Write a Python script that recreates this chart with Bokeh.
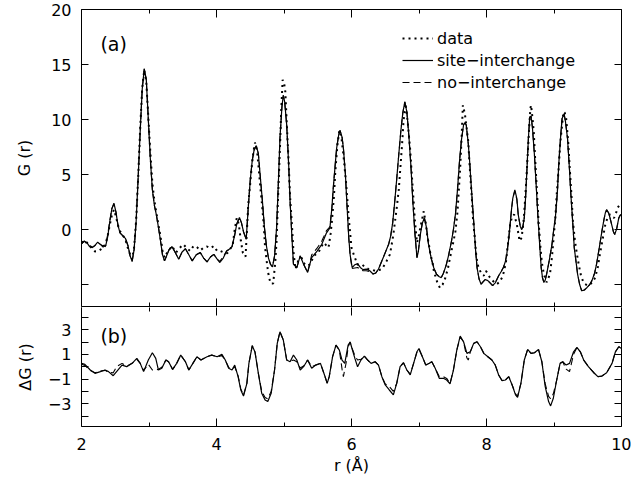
from bokeh.plotting import figure
from bokeh.models import Range1d, FixedTicker, LinearAxis, Legend, LegendItem, Label, ColumnDataSource
from bokeh.layouts import column
from bokeh.embed import file_html
from bokeh.resources import INLINE

# ---------------- data ----------------
# panel (a): G(r), pairs (r, G)
DATA = [(2.00,-1.20),(2.05,-1.00),(2.10,-1.30),(2.15,-1.70),(2.20,-2.00),(2.25,-1.95),(2.30,-1.75),(2.35,-1.50),
 (2.39,-0.50),(2.42,0.45),(2.45,1.30),(2.48,1.80),(2.51,1.20),(2.54,0.40),(2.57,-0.15),(2.61,-0.50),(2.65,-0.90),
 (2.70,-1.96),(2.75,-2.70),(2.78,-1.60),(2.81,0.90),(2.84,4.80),(2.87,9.30),(2.90,12.90),(2.93,14.50),(2.96,13.40),
 (2.99,10.20),(3.02,7.00),(3.05,4.20),(3.08,2.60),(3.11,1.50),(3.14,0.40),(3.17,-0.60),(3.20,-1.90),(3.23,-2.56),
 (3.26,-2.20),(3.29,-1.96),(3.34,-1.50),(3.40,-2.10),(3.45,-1.70),(3.51,-1.35),(3.56,-1.70),(3.61,-1.96),(3.66,-1.50),
 (3.71,-1.60),(3.76,-1.90),(3.81,-1.65),(3.86,-1.55),(3.91,-1.70),(3.96,-1.50),(4.01,-1.96),(4.06,-1.96),(4.11,-2.10),
 (4.16,-2.15),(4.20,-1.80),(4.24,-1.40),(4.27,0.00),(4.30,1.05),(4.33,0.50),(4.36,-1.00),(4.39,-2.10),(4.43,-2.47),
 (4.45,-0.20),(4.47,2.26),(4.50,4.20),(4.52,5.60),(4.55,7.20),(4.57,7.90),(4.60,7.20),(4.62,5.90),(4.65,3.80),
 (4.67,2.56),(4.70,0.40),(4.72,-1.65),(4.75,-3.20),(4.77,-4.07),(4.80,-4.90),(4.84,-4.90),(4.87,-3.00),(4.89,-1.05),
 (4.91,2.60),(4.94,7.40),(4.96,11.00),(4.98,13.60),(5.00,13.40),(5.02,12.50),(5.04,9.80),(5.07,5.90),(5.09,3.00),
 (5.12,0.15),(5.14,-2.00),(5.17,-3.60),(5.21,-2.86),(5.26,-2.56),(5.30,-3.10),(5.34,-3.30),(5.39,-3.16),(5.44,-2.40),
 (5.51,-2.10),(5.55,-1.60),(5.59,-1.20),(5.62,-1.40),(5.66,-1.65),(5.69,-0.40),(5.71,0.75),(5.74,3.00),(5.76,5.27),
 (5.79,7.60),(5.82,9.00),(5.85,8.40),(5.88,6.80),(5.92,4.20),(5.96,1.00),(6.00,-1.65),(6.04,-2.40),(6.09,-3.20),
 (6.15,-3.16),(6.20,-3.40),(6.25,-3.60),(6.30,-3.65),(6.35,-3.76),(6.40,-3.70),(6.45,-3.60),(6.49,-3.20),(6.52,-2.86),
 (6.57,-2.26),(6.60,-1.20),(6.62,-0.45),(6.67,1.96),(6.70,3.60),(6.72,5.27),(6.75,7.80),(6.77,9.80),(6.80,11.45),
 (6.82,10.50),(6.84,9.30),(6.87,7.20),(6.89,5.27),(6.92,2.60),(6.94,0.75),(6.97,-1.20),(6.99,-0.80),(7.02,0.20),
 (7.04,0.75),(7.07,1.66),(7.10,0.60),(7.12,-0.45),(7.15,-1.50),(7.17,-2.26),(7.20,-3.00),(7.22,-3.76),(7.25,-4.40),
 (7.27,-4.80),(7.31,-5.30),(7.35,-5.00),(7.39,-4.40),(7.43,-3.50),(7.46,-2.56),(7.50,-1.40),(7.54,-0.15),(7.57,1.60),
 (7.59,3.60),(7.61,5.57),(7.63,8.20),(7.65,11.30),(7.68,10.50),(7.70,9.50),(7.73,8.00),(7.75,5.80),(7.78,3.16),
 (7.80,1.00),(7.83,-1.05),(7.85,-2.50),(7.88,-3.46),(7.93,-4.07),(7.96,-4.20),(7.99,-3.76),(8.02,-4.00),(8.05,-4.37),
 (8.10,-4.70),(8.15,-4.97),(8.19,-4.80),(8.23,-4.37),(8.26,-3.80),(8.29,-2.86),(8.32,-1.20),(8.35,0.45),(8.38,1.20),
 (8.41,1.36),(8.45,0.45),(8.49,-1.05),(8.52,-0.75),(8.55,0.80),(8.57,2.56),(8.59,4.50),(8.61,6.80),(8.63,9.00),
 (8.65,11.00),(8.66,11.30),(8.68,10.20),(8.70,8.90),(8.72,6.50),(8.75,3.16),(8.77,0.80),(8.80,-1.65),(8.82,-3.00),
 (8.85,-4.07),(8.89,-4.80),(8.94,-4.07),(8.97,-2.50),(8.99,-1.05),(9.02,1.00),(9.04,3.16),(9.07,5.60),(9.09,7.70),
 (9.12,9.50),(9.14,10.70),(9.16,10.60),(9.18,10.10),(9.21,8.00),(9.23,5.90),(9.26,3.00),(9.28,0.75),(9.31,-1.00),
 (9.34,-2.26),(9.37,-3.30),(9.40,-4.20),(9.43,-4.70),(9.46,-4.97),(9.50,-5.10),(9.54,-4.97),(9.58,-4.70),(9.61,-4.37),
 (9.65,-3.40),(9.68,-2.26),(9.72,-0.90),(9.76,0.45),(9.80,1.20),(9.83,1.36),(9.86,1.20),(9.89,1.05),(9.92,1.50),
 (9.94,1.96),(9.97,2.20),(10.00,2.30)]

SITE_INTERCHANGE = [(2.00,-1.30),(2.04,-1.05),(2.08,-1.20),(2.12,-1.55),(2.16,-1.65),(2.20,-1.45),(2.24,-1.15),
 (2.28,-1.35),(2.32,-1.60),(2.36,-1.45),(2.39,-0.60),(2.42,0.75),(2.45,1.90),(2.48,2.40),(2.51,1.60),(2.54,0.40),
 (2.57,-0.30),(2.61,-0.55),(2.65,-0.80),(2.69,-1.50),(2.72,-2.40),(2.75,-2.90),(2.78,-1.80),(2.81,0.80),(2.84,4.80),
 (2.87,9.00),(2.90,12.80),(2.93,14.60),(2.96,13.60),(2.99,10.00),(3.02,6.40),(3.05,3.60),(3.08,2.20),(3.11,1.30),
 (3.14,0.20),(3.17,-1.00),(3.20,-2.30),(3.23,-2.85),(3.26,-2.40),(3.30,-1.80),(3.34,-1.55),(3.39,-2.10),(3.44,-2.70),
 (3.49,-2.05),(3.54,-1.75),(3.59,-2.30),(3.64,-2.85),(3.70,-2.30),(3.76,-2.10),(3.81,-2.60),(3.86,-2.95),(3.91,-2.50),
 (3.96,-2.26),(4.01,-2.70),(4.05,-3.00),(4.10,-2.60),(4.15,-1.96),(4.20,-1.75),(4.23,-1.55),(4.27,-0.50),(4.30,0.50),
 (4.34,1.10),(4.37,0.60),(4.40,-0.20),(4.44,-0.90),(4.47,1.96),(4.50,4.50),(4.53,6.30),(4.56,7.30),(4.59,7.60),
 (4.62,6.90),(4.65,4.70),(4.68,2.60),(4.71,0.20),(4.74,-1.50),(4.77,-2.60),(4.80,-3.16),(4.83,-3.40),(4.86,-2.40),
 (4.89,0.15),(4.92,4.80),(4.94,8.30),(4.97,11.20),(4.99,12.20),(5.01,11.60),(5.04,9.50),(5.07,5.80),(5.09,2.56),
 (5.12,-1.00),(5.14,-3.16),(5.19,-3.46),(5.24,-2.40),(5.29,-3.16),(5.35,-3.90),(5.41,-2.56),(5.49,-1.96),(5.56,-1.35),
 (5.63,-0.30),(5.68,0.15),(5.71,2.00),(5.73,3.80),(5.76,6.00),(5.78,7.40),(5.81,8.60),(5.83,9.00),(5.86,8.40),
 (5.88,7.40),(5.91,5.00),(5.93,2.56),(5.96,-0.80),(5.98,-2.30),(6.01,-3.46),(6.05,-3.20),(6.09,-3.10),(6.13,-3.45),
 (6.17,-3.65),(6.22,-3.60),(6.27,-3.75),(6.32,-4.05),(6.36,-3.95),(6.40,-3.60),(6.44,-3.00),(6.48,-2.40),(6.52,-1.80),
 (6.55,-1.35),(6.58,-0.60),(6.61,0.60),(6.64,2.50),(6.67,4.60),(6.70,6.80),(6.73,8.90),(6.76,10.60),(6.79,11.60),
 (6.82,10.70),(6.85,8.50),(6.88,5.80),(6.91,2.40),(6.94,-0.40),(6.97,-2.56),(6.99,-2.00),(7.02,-0.45),(7.05,0.60),
 (7.08,1.05),(7.11,0.20),(7.14,-1.30),(7.18,-2.60),(7.22,-3.50),(7.26,-4.07),(7.30,-4.30),(7.33,-4.37),(7.36,-4.00),
 (7.40,-3.30),(7.44,-2.30),(7.48,-1.10),(7.51,0.00),(7.54,1.40),(7.57,3.60),(7.60,6.20),(7.63,8.20),(7.66,9.50),
 (7.68,9.70),(7.70,9.50),(7.73,7.80),(7.75,6.20),(7.78,3.40),(7.81,0.75),(7.84,-2.00),(7.86,-3.46),(7.89,-4.50),
 (7.92,-4.97),(7.95,-4.75),(7.98,-4.55),(8.02,-4.65),(8.06,-4.90),(8.09,-5.10),(8.13,-4.85),(8.18,-4.20),(8.22,-3.80),
 (8.25,-3.46),(8.28,-2.90),(8.30,-2.26),(8.33,-0.80),(8.35,0.45),(8.37,1.80),(8.39,2.86),(8.42,3.60),(8.45,2.80),
 (8.47,1.36),(8.50,0.30),(8.52,0.00),(8.54,0.30),(8.56,1.05),(8.58,3.00),(8.60,5.57),(8.62,8.20),(8.64,10.20),
 (8.66,10.30),(8.68,9.30),(8.71,6.80),(8.74,3.60),(8.76,1.36),(8.79,-1.60),(8.81,-3.46),(8.83,-4.40),(8.85,-4.80),
 (8.87,-4.60),(8.89,-4.07),(8.93,-2.80),(8.97,-1.35),(9.00,0.20),(9.02,1.05),(9.05,3.40),(9.07,5.90),(9.10,8.60),
 (9.12,10.10),(9.15,10.50),(9.17,9.80),(9.20,8.30),(9.23,5.40),(9.25,3.16),(9.28,0.40),(9.30,-1.65),(9.33,-3.10),
 (9.35,-4.07),(9.38,-5.00),(9.41,-5.57),(9.45,-5.50),(9.49,-5.27),(9.53,-5.00),(9.56,-4.67),(9.60,-4.00),(9.63,-3.16),
 (9.67,-1.70),(9.71,-0.15),(9.74,0.90),(9.76,1.50),(9.78,1.80),(9.81,1.50),(9.83,1.05),(9.86,0.30),(9.88,-0.20),
 (9.90,-0.45),(9.93,0.10),(9.96,1.05),(9.98,1.30),(10.00,1.36)]

NO_INTERCHANGE = [(2.00,-1.30),(2.04,-1.05),(2.08,-1.30),(2.12,-1.45),(2.16,-1.60),(2.20,-1.45),(2.24,-1.20),
 (2.28,-1.35),(2.32,-1.50),(2.36,-1.30),(2.39,-0.40),(2.42,0.85),(2.45,1.90),(2.48,2.30),(2.51,1.60),(2.54,0.40),
 (2.57,-0.30),(2.61,-0.55),(2.65,-0.80),(2.69,-1.50),(2.72,-2.40),(2.75,-2.90),(2.78,-1.80),(2.81,0.80),(2.84,4.80),
 (2.87,9.00),(2.90,12.80),(2.93,14.60),(2.96,13.60),(2.99,10.00),(3.02,6.40),(3.05,3.60),(3.08,2.20),(3.11,1.30),
 (3.14,0.20),(3.17,-1.00),(3.20,-2.30),(3.23,-2.85),(3.26,-2.40),(3.30,-1.80),(3.34,-1.55),(3.39,-2.10),(3.44,-2.70),
 (3.49,-2.05),(3.54,-1.75),(3.59,-2.30),(3.64,-2.85),(3.70,-2.30),(3.76,-2.10),(3.81,-2.60),(3.86,-2.95),(3.91,-2.50),
 (3.96,-2.26),(4.01,-2.70),(4.05,-2.90),(4.10,-2.45),(4.15,-1.96),(4.20,-1.75),(4.23,-1.55),(4.27,-0.50),(4.30,0.50),
 (4.34,1.10),(4.37,0.60),(4.40,-0.20),(4.44,-0.90),(4.47,1.96),(4.50,4.50),(4.53,6.30),(4.56,7.30),(4.59,7.60),
 (4.62,6.90),(4.65,4.70),(4.68,2.60),(4.71,0.20),(4.74,-1.50),(4.77,-2.60),(4.80,-3.16),(4.83,-3.40),(4.86,-2.40),
 (4.89,0.15),(4.92,4.80),(4.94,8.30),(4.97,11.20),(4.99,12.20),(5.01,11.60),(5.04,9.50),(5.07,5.80),(5.09,2.56),
 (5.12,-1.00),(5.14,-3.16),(5.19,-3.46),(5.24,-2.40),(5.29,-3.16),(5.35,-3.90),(5.41,-2.30),(5.49,-1.70),(5.56,-1.05),
 (5.63,-0.10),(5.68,0.25),(5.71,2.00),(5.73,3.80),(5.76,6.00),(5.78,7.40),(5.81,8.60),(5.83,9.00),(5.86,8.40),
 (5.88,7.40),(5.91,5.00),(5.93,2.56),(5.96,-0.80),(5.98,-2.40),(6.01,-3.55),(6.05,-3.50),(6.09,-3.45),(6.13,-3.60),
 (6.17,-3.75),(6.22,-3.75),(6.27,-3.85),(6.32,-4.05),(6.36,-3.95),(6.40,-3.60),(6.44,-3.00),(6.48,-2.40),(6.52,-1.80),
 (6.55,-1.35),(6.58,-0.60),(6.61,0.60),(6.64,2.50),(6.67,4.60),(6.70,6.80),(6.73,8.90),(6.76,10.60),(6.79,11.60),
 (6.82,10.70),(6.85,8.50),(6.88,5.80),(6.91,2.40),(6.94,-0.40),(6.97,-2.56),(6.99,-2.00),(7.02,-0.45),(7.05,0.60),
 (7.08,1.05),(7.11,0.20),(7.14,-1.30),(7.18,-2.60),(7.22,-3.50),(7.26,-4.07),(7.30,-4.30),(7.33,-4.37),(7.36,-4.00),
 (7.40,-3.30),(7.44,-2.30),(7.48,-1.10),(7.51,0.00),(7.54,1.40),(7.57,3.60),(7.60,6.20),(7.63,8.20),(7.66,9.50),
 (7.68,9.70),(7.70,9.50),(7.73,7.80),(7.75,6.20),(7.78,3.40),(7.81,0.75),(7.84,-2.00),(7.86,-3.46),(7.89,-4.50),
 (7.92,-4.97),(7.95,-4.75),(7.98,-4.55),(8.02,-4.65),(8.06,-4.90),(8.09,-5.10),(8.13,-4.85),(8.18,-4.20),(8.22,-3.80),
 (8.25,-3.46),(8.28,-2.90),(8.30,-2.26),(8.33,-0.80),(8.35,0.45),(8.37,1.80),(8.39,2.86),(8.42,3.50),(8.45,2.70),
 (8.47,1.36),(8.50,0.30),(8.52,0.00),(8.54,0.30),(8.56,1.05),(8.58,3.00),(8.60,5.57),(8.62,8.20),(8.64,10.20),
 (8.66,10.30),(8.68,9.30),(8.71,6.80),(8.74,3.60),(8.76,1.36),(8.79,-1.60),(8.81,-3.46),(8.83,-4.40),(8.85,-4.80),
 (8.87,-4.60),(8.89,-4.07),(8.93,-2.80),(8.97,-1.35),(9.00,0.20),(9.02,1.05),(9.05,3.40),(9.07,5.90),(9.10,8.60),
 (9.12,10.10),(9.15,10.50),(9.17,9.80),(9.20,8.30),(9.23,5.40),(9.25,3.16),(9.28,0.40),(9.30,-1.65),(9.33,-3.10),
 (9.35,-4.07),(9.38,-5.00),(9.41,-5.57),(9.45,-5.50),(9.49,-5.27),(9.53,-5.00),(9.56,-4.67),(9.60,-4.00),(9.63,-3.16),
 (9.67,-1.70),(9.71,-0.15),(9.74,0.90),(9.76,1.50),(9.78,1.80),(9.81,1.50),(9.83,1.05),(9.86,0.30),(9.88,-0.20),
 (9.90,-0.45),(9.93,0.10),(9.96,1.05),(9.98,1.30),(10.00,1.36)]

# panel (b): difference curves, pairs (r, dG)
DIFF_SITE = [(2.00,0.27),(2.05,0.19),(2.13,-0.27),(2.20,-0.54),(2.28,-0.40),(2.35,-0.27),(2.40,-0.40),(2.47,-0.73),
 (2.52,-0.40),(2.60,0.13),(2.67,0.00),(2.75,0.27),(2.82,0.67),(2.87,0.27),(2.92,-0.40),(2.99,0.54),(3.05,1.13),
 (3.10,0.67),(3.14,-0.27),(3.19,-0.13),(3.25,0.54),(3.29,0.40),(3.35,-0.22),(3.41,0.27),(3.47,0.94),(3.54,0.40),
 (3.59,-0.27),(3.65,0.27),(3.71,0.81),(3.77,0.54),(3.86,0.81),(3.93,0.94),(4.01,0.81),(4.08,1.00),(4.13,0.54),
 (4.18,-0.13),(4.23,-0.27),(4.27,0.13),(4.32,-0.81),(4.36,-1.89),(4.40,-2.38),(4.45,-1.35),(4.48,0.27),(4.53,1.70),
 (4.57,1.20),(4.62,-0.54),(4.67,-2.16),(4.72,-2.70),(4.76,-2.83),(4.81,-2.16),(4.86,-0.27),(4.90,1.89),(4.94,2.83),
 (4.99,2.16),(5.04,0.54),(5.09,0.40),(5.14,0.94),(5.19,0.54),(5.24,-0.27),(5.29,0.00),(5.35,0.54),(5.41,-0.13),
 (5.47,0.13),(5.54,0.27),(5.60,-0.67),(5.64,-1.35),(5.67,-0.81),(5.72,0.81),(5.77,1.75),(5.82,1.35),(5.86,0.54),
 (5.90,0.27),(5.95,1.75),(5.98,2.00),(6.00,1.62),(6.05,0.67),(6.09,0.00),(6.14,0.54),(6.19,0.86),(6.24,0.54),
 (6.29,0.27),(6.35,0.40),(6.40,0.13),(6.45,-0.81),(6.50,-1.48),(6.56,-1.89),(6.62,-2.29),(6.67,-1.35),(6.72,0.00),
 (6.77,0.32),(6.82,-0.27),(6.87,-0.67),(6.92,0.27),(6.97,1.21),(7.00,1.48),(7.05,0.81),(7.10,0.13),(7.15,0.27),
 (7.19,0.40),(7.24,-0.13),(7.30,-0.94),(7.36,-0.94),(7.41,-1.08),(7.46,-1.40),(7.51,-0.27),(7.56,1.35),(7.61,2.48),
 (7.66,2.02),(7.71,1.08),(7.76,1.21),(7.81,1.89),(7.86,2.02),(7.91,1.62),(7.96,1.08),(8.02,0.81),(8.08,0.54),
 (8.13,0.13),(8.18,-0.67),(8.23,-1.13),(8.28,-1.08),(8.33,-0.81),(8.38,-1.48),(8.43,-2.29),(8.46,-2.48),(8.51,-1.35),
 (8.56,0.54),(8.61,1.40),(8.66,1.08),(8.71,1.13),(8.77,1.40),(8.82,0.40),(8.87,-1.62),(8.92,-2.83),(8.95,-3.18),
 (8.99,-2.56),(9.04,-1.08),(9.09,0.27),(9.13,0.40),(9.18,0.13),(9.23,0.27),(9.29,1.21),(9.34,1.56),(9.39,1.21),
 (9.44,0.54),(9.51,0.00),(9.59,-0.49),(9.65,-0.81),(9.71,-0.76),(9.78,-0.49),(9.86,0.27),(9.91,1.21),(9.96,1.62),
 (10.00,1.48)]

DIFF_NO = [(2.00,0.20),(2.05,0.10),(2.13,-0.30),(2.20,-0.50),(2.28,-0.35),(2.35,-0.30),(2.40,-0.45),(2.47,-0.50),
 (2.52,0.00),(2.60,0.27),(2.67,0.05),(2.75,0.27),(2.82,0.60),(2.87,0.27),(2.92,-0.30),(2.99,0.20),(3.05,-0.27),
 (3.10,-0.27),(3.14,-0.20),(3.19,-0.05),(3.25,0.54),(3.29,0.40),(3.35,-0.22),(3.41,0.27),(3.47,0.94),(3.54,0.40),
 (3.59,-0.27),(3.65,0.27),(3.71,0.81),(3.77,0.54),(3.86,0.81),(3.93,0.94),(4.01,0.81),(4.08,0.90),(4.13,0.54),
 (4.18,-0.05),(4.23,-0.20),(4.27,0.00),(4.32,-0.75),(4.36,-1.80),(4.40,-2.30),(4.45,-1.35),(4.48,0.27),(4.53,1.70),
 (4.57,1.20),(4.62,-0.54),(4.67,-2.00),(4.72,-2.50),(4.76,-2.60),(4.81,-2.00),(4.86,-0.27),(4.90,1.89),(4.94,2.83),
 (4.99,2.16),(5.04,0.54),(5.09,0.45),(5.14,0.54),(5.19,0.40),(5.24,-0.10),(5.29,0.05),(5.35,0.54),(5.41,0.00),
 (5.47,0.13),(5.54,0.27),(5.60,-0.67),(5.64,-1.35),(5.67,-0.81),(5.72,0.81),(5.77,1.75),(5.82,1.35),(5.86,-0.20),
 (5.88,-0.80),(5.92,0.30),(5.95,1.60),(5.98,2.00),(6.00,1.62),(6.05,0.90),(6.09,0.54),(6.14,0.60),(6.19,0.86),
 (6.24,0.54),(6.29,0.27),(6.35,0.40),(6.40,0.13),(6.45,-0.81),(6.50,-1.40),(6.56,-1.60),(6.62,-2.00),(6.67,-1.35),
 (6.72,0.00),(6.77,0.32),(6.82,-0.27),(6.87,-0.60),(6.92,0.27),(6.97,1.21),(7.00,1.40),(7.05,0.81),(7.10,0.13),
 (7.15,0.27),(7.19,0.40),(7.24,-0.13),(7.30,-0.80),(7.36,-0.80),(7.41,-0.95),(7.46,-1.35),(7.51,-0.27),(7.56,1.35),
 (7.61,2.40),(7.66,2.02),(7.71,0.70),(7.73,0.54),(7.76,1.20),(7.81,1.89),(7.86,2.02),(7.91,1.62),(7.96,1.08),
 (8.02,0.81),(8.08,0.54),(8.13,0.13),(8.18,-0.67),(8.23,-1.13),(8.28,-1.08),(8.33,-0.81),(8.38,-1.48),(8.43,-2.20),
 (8.46,-2.40),(8.51,-1.35),(8.56,0.54),(8.61,1.40),(8.66,1.08),(8.71,1.13),(8.77,1.40),(8.82,0.40),(8.87,-1.40),
 (8.92,-2.40),(8.95,-2.60),(8.99,-2.20),(9.04,-1.08),(9.09,0.27),(9.13,0.40),(9.18,-0.20),(9.23,-0.40),(9.29,1.00),
 (9.34,1.56),(9.39,1.21),(9.44,0.54),(9.51,0.00),(9.59,-0.49),(9.65,-0.81),(9.71,-0.76),(9.78,-0.49),(9.86,0.27),
 (9.91,1.21),(9.96,1.62),(10.00,1.48)]

X_TICKS = [2, 4, 6, 8, 10]
X_MINOR = [3, 5, 7, 9]
G_TICKS = [-5, 0, 5, 10, 15, 20]
G_LABELS = {-5: ""}
DG_TICKS = [-4, -3, -2, -1, 0, 1, 2, 3, 4]
DG_LABELS = {-4: "", -3: "\u22123", -2: "", -1: "\u22121", 0: "", 1: "1", 2: "", 3: "3", 4: ""}
LEGEND_LABELS = ["data", "site\u2212interchange", "no\u2212interchange"]

FONT = "DejaVu Sans"


def src(pairs):
    return ColumnDataSource(dict(r=[p[0] for p in pairs], g=[p[1] for p in pairs]))


def make_axis(ticks, minor=None, overrides=None, show_labels=True, label=None, tick_in=7, minor_in=4,
              standoff=10, label_standoff=10, horizontal=False):
    ax = LinearAxis(ticker=FixedTicker(ticks=ticks, minor_ticks=minor or []))
    ax.major_tick_in = tick_in
    ax.major_tick_out = 0
    ax.minor_tick_in = minor_in
    ax.minor_tick_out = 0
    ax.axis_line_color = "black"
    ax.major_tick_line_color = "black"
    ax.minor_tick_line_color = "black"
    ax.axis_line_width = 1
    ax.major_label_text_font = FONT
    ax.major_label_text_font_size = "16px"
    ax.major_label_text_color = "black"
    if show_labels:
        if overrides:
            ax.major_label_overrides = overrides
        ax.major_label_standoff = standoff
    else:
        # tick marks only: every label is empty and takes no room
        ax.major_label_overrides = {t: "" for t in ticks}
        ax.major_label_standoff = 0
        if horizontal:
            ax.major_label_orientation = "vertical"
    if label:
        ax.axis_label = label
        ax.axis_label_text_font = FONT
        ax.axis_label_text_font_size = "16px"
        ax.axis_label_text_font_style = "normal"
        ax.axis_label_text_color = "black"
        ax.axis_label_standoff = label_standoff
    return ax


x_range = Range1d(2, 10)

# ---------------- panel (a) ----------------
p1 = figure(width=631, height=307, x_range=x_range, y_range=Range1d(-7, 20),
            output_backend="svg", toolbar_location=None,
            x_axis_location=None, y_axis_location=None,
            min_border_left=81, min_border_right=10, min_border_top=9, min_border_bottom=1)
p1.outline_line_color = None
p1.background_fill_color = "white"
p1.border_fill_color = "white"
for g in p1.grid:
    g.visible = False

p1.add_layout(make_axis(G_TICKS, overrides=G_LABELS, label="G (r)", label_standoff=14), "left")
p1.add_layout(make_axis(G_TICKS, show_labels=False), "right")
p1.add_layout(make_axis(X_TICKS, X_MINOR, show_labels=False, tick_in=8, horizontal=True), "above")
p1.add_layout(make_axis(X_TICKS, X_MINOR, show_labels=False, tick_in=8, horizontal=True), "below")

r_no = p1.line("r", "g", source=src(NO_INTERCHANGE), line_color="black", line_width=1.1, line_dash="7 4")
r_si = p1.line("r", "g", source=src(SITE_INTERCHANGE), line_color="black", line_width=1.2)
r_dat = p1.line("r", "g", source=src(DATA), line_color="black", line_width=2, line_dash="2 4")

legend = Legend(items=[LegendItem(label=LEGEND_LABELS[0], renderers=[r_dat]),
                       LegendItem(label=LEGEND_LABELS[1], renderers=[r_si]),
                       LegendItem(label=LEGEND_LABELS[2], renderers=[r_no])],
                location=(321, 213), orientation="vertical",
                padding=0, margin=0, spacing=0, glyph_width=31, glyph_height=22,
                label_height=22, label_standoff=4,
                label_text_font=FONT, label_text_font_size="16px", label_text_color="black",
                border_line_color=None, background_fill_alpha=0)
p1.add_layout(legend)

p1.add_layout(Label(x=2.28, y=16.9, text="(a)", text_font=FONT, text_font_size="19px",
                    text_baseline="middle", text_align="left", text_color="black"))

# ---------------- panel (b) ----------------
p2 = figure(width=631, height=171, x_range=x_range, y_range=Range1d(-4.85, 4.8),
            output_backend="svg", toolbar_location=None,
            x_axis_location=None, y_axis_location=None,
            min_border_left=81, min_border_right=10, min_border_top=0, min_border_bottom=52)
p2.outline_line_color = None
p2.background_fill_color = "white"
p2.border_fill_color = "white"
for g in p2.grid:
    g.visible = False

p2.add_layout(make_axis(DG_TICKS, overrides=DG_LABELS, label="\u0394G (r)", label_standoff=10), "left")
p2.add_layout(make_axis(DG_TICKS, show_labels=False), "right")
top_ax = make_axis(X_TICKS, X_MINOR, show_labels=False, tick_in=8, horizontal=True)
top_ax.axis_line_color = None
p2.add_layout(top_ax, "above")
p2.add_layout(make_axis(X_TICKS, X_MINOR, label="r (\u00c5)", tick_in=8, standoff=11, label_standoff=3), "below")

p2.line("r", "g", source=src(DIFF_NO), line_color="black", line_width=1.1, line_dash="7 4")
p2.line("r", "g", source=src(DIFF_SITE), line_color="black", line_width=1.2)

p2.add_layout(Label(x=2.28, y=2.46, text="(b)", text_font=FONT, text_font_size="19px",
                    text_baseline="middle", text_align="left", text_color="black"))

layout = column(p1, p2, spacing=0)
open("out.html", "w").write(file_html(layout, INLINE))
